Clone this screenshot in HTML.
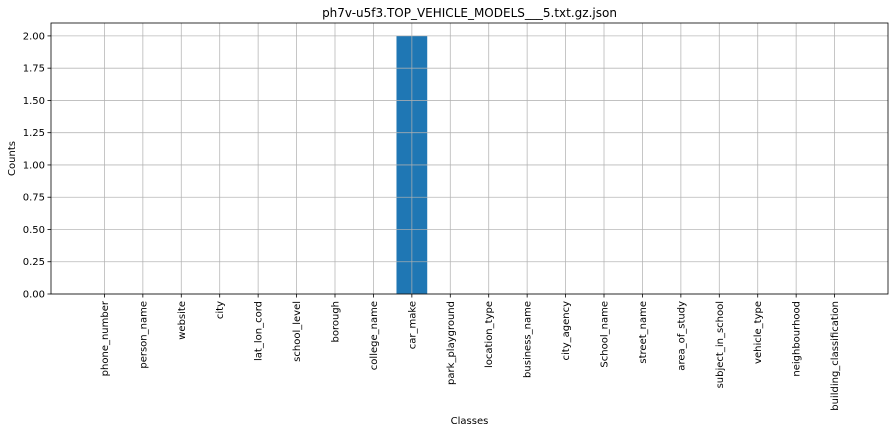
<!DOCTYPE html>
<html><head><meta charset="utf-8"><style>
body{margin:0;background:#fff;}
svg{display:block;font-family:"DejaVu Sans","Liberation Sans",sans-serif;}
</style></head><body>
<svg id="chart" width="894" height="433" xmlns="http://www.w3.org/2000/svg"></svg>
<script>
const categories=["phone_number","person_name","website","city","lat_lon_cord","school_level","borough","college_name","car_make","park_playground","location_type","business_name","city_agency","School_name","street_name","area_of_study","subject_in_school","vehicle_type","neighbourhood","building_classification"];
const counts=[0,0,0,0,0,0,0,0,2,0,0,0,0,0,0,0,0,0,0,0];
const yTicks=[0,0.25,0.5,0.75,1.0,1.25,1.5,1.75,2.0];
const yTickLabels=["0.00","0.25","0.50","0.75","1.00","1.25","1.50","1.75","2.00"];

const NS="http://www.w3.org/2000/svg";
const svg=document.getElementById('chart');
const L=51,R=888,T=23,B=294;
const n=categories.length;
const xmin=-0.4-0.05*(n-1+0.8),xmax=n-1+0.4+0.05*(n-1+0.8);
const ymax=Math.max(...counts)*1.05||1;
const xs=v=>L+(v-xmin)/(xmax-xmin)*(R-L);
const ys=v=>B-v/ymax*(B-T);
function mk(tag,attrs,parent){const e=document.createElementNS(NS,tag);for(const k in attrs)e.setAttribute(k,attrs[k]);(parent||svg).appendChild(e);return e;}

const title=mk('text',{x:(L+R)/2,y:17,'text-anchor':'middle','font-size':12,fill:'#000'});
title.textContent="ph7v-u5f3.TOP_VEHICLE_MODELS___5.txt.gz.json";



const bw=(xs(0.8)-xs(0));
counts.forEach((c,i)=>{
 const r=mk('rect',{x:xs(i)-bw/2,y:ys(c),width:bw,height:ys(0)-ys(c),fill:'#1f77b4'});
 
 
});
// grid
yTicks.forEach((t,i)=>{
 const g=mk('line',{x1:L,x2:R,y1:ys(t),y2:ys(t),stroke:'#b0b0b0','stroke-width':0.8,'stroke-opacity':0.9});
 
 
 mk('line',{x1:L-3.5,x2:L,y1:ys(t),y2:ys(t),stroke:'#000','stroke-width':0.8});
 const tx=mk('text',{x:L-6,y:ys(t)+3.5,'text-anchor':'end','font-size':10,fill:'#000'});
 tx.textContent=yTickLabels[i];
 
 
});
categories.forEach((c,i)=>{
 const x=xs(i);
 const g=mk('line',{x1:x,x2:x,y1:T,y2:B,stroke:'#b0b0b0','stroke-width':0.8,'stroke-opacity':0.9});
 
 
 mk('line',{x1:x,x2:x,y1:B,y2:B+3.5,stroke:'#000','stroke-width':0.8});
 const tx=mk('text',{x:0,y:0,'text-anchor':'end','font-size':10,fill:'#000',transform:`translate(${x+3.5},${B+7}) rotate(-90)`});
 tx.textContent=c;
 
 
});
const fr=mk('rect',{x:L,y:T,width:R-L,height:B-T,fill:'none',stroke:'#000','stroke-width':0.8});


const xl=mk('text',{x:(L+R)/2,y:424,'text-anchor':'middle','font-size':10,fill:'#000'});
xl.textContent="Classes";


const yl=mk('text',{x:0,y:0,'text-anchor':'middle','font-size':10,fill:'#000',transform:`translate(15,${(T+B)/2}) rotate(-90)`});
yl.textContent="Counts";


</script>
</body></html>
